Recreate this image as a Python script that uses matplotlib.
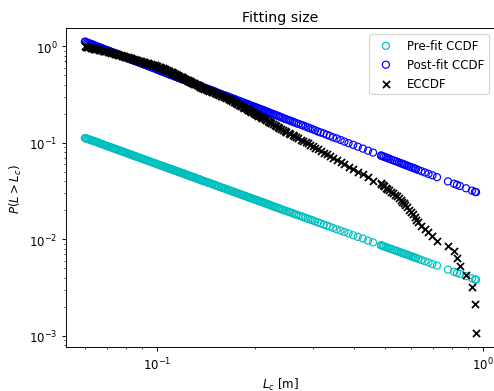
import matplotlib
matplotlib.use("Agg")
import matplotlib.pyplot as plt

# Crack lengths L_c [m]
Lc = [
    0.0600, 0.0605, 0.0610, 0.0615, 0.0620, 0.0625, 0.0630, 0.0635, 0.0641, 0.0646,
    0.0651, 0.0657, 0.0663, 0.0668, 0.0674, 0.0680, 0.0686, 0.0692, 0.0698, 0.0705,
    0.0711, 0.0718, 0.0724, 0.0731, 0.0737, 0.0742, 0.0748, 0.0754, 0.0760, 0.0766,
    0.0772, 0.0778, 0.0785, 0.0791, 0.0798, 0.0804, 0.0811, 0.0818, 0.0825, 0.0832,
    0.0839, 0.0847, 0.0854, 0.0862, 0.0869, 0.0877, 0.0885, 0.0894, 0.0902, 0.0910,
    0.0919, 0.0928, 0.0937, 0.0945, 0.0954, 0.0963, 0.0973, 0.0982, 0.0992, 0.100,
    0.101, 0.102, 0.103, 0.103, 0.104, 0.105, 0.106, 0.106, 0.107, 0.108,
    0.108, 0.109, 0.109, 0.110, 0.111, 0.111, 0.112, 0.112, 0.113, 0.113,
    0.114, 0.115, 0.115, 0.116, 0.116, 0.117, 0.118, 0.118, 0.119, 0.120,
    0.120, 0.121, 0.122, 0.122, 0.123, 0.124, 0.124, 0.125, 0.126, 0.126,
    0.127, 0.128, 0.129, 0.130, 0.130, 0.131, 0.132, 0.133, 0.134, 0.135,
    0.135, 0.136, 0.137, 0.138, 0.139, 0.141, 0.142, 0.143, 0.144, 0.146,
    0.147, 0.148, 0.150, 0.151, 0.152, 0.154, 0.155, 0.157, 0.158, 0.160,
    0.162, 0.163, 0.165, 0.166, 0.167, 0.169, 0.170, 0.172, 0.173, 0.175,
    0.176, 0.178, 0.180, 0.181, 0.183, 0.185, 0.187, 0.189, 0.190, 0.191,
    0.193, 0.194, 0.196, 0.198, 0.199, 0.201, 0.203, 0.204, 0.206, 0.208,
    0.210, 0.212, 0.214, 0.216, 0.218, 0.220, 0.222, 0.224, 0.227, 0.229,
    0.232, 0.235, 0.237, 0.240, 0.243, 0.246, 0.249, 0.253, 0.256, 0.260,
    0.263, 0.267, 0.271, 0.276, 0.280, 0.285, 0.290, 0.295, 0.300, 0.305,
    0.311, 0.317, 0.324, 0.331, 0.338, 0.346, 0.355, 0.365, 0.375, 0.386,
    0.399, 0.412, 0.427, 0.443, 0.459, 0.486, 0.486, 0.491, 0.496, 0.502,
    0.508, 0.514, 0.521, 0.528, 0.535, 0.543, 0.551, 0.558, 0.564, 0.571,
    0.577, 0.585, 0.592, 0.601, 0.609, 0.616, 0.622, 0.632, 0.646, 0.662,
    0.679, 0.698, 0.721, 0.779, 0.813, 0.830, 0.848, 0.885, 0.923, 0.943,
    0.950,
]

# Empirical CCDF P(L > L_c)
eccdf = [
    1.00, 0.994, 0.987, 0.981, 0.974, 0.968, 0.961, 0.955, 0.949, 0.942,
    0.936, 0.929, 0.923, 0.917, 0.910, 0.904, 0.897, 0.891, 0.884, 0.878,
    0.872, 0.865, 0.859, 0.852, 0.846, 0.840, 0.833, 0.827, 0.820, 0.814,
    0.807, 0.801, 0.795, 0.788, 0.782, 0.775, 0.769, 0.763, 0.756, 0.750,
    0.743, 0.737, 0.730, 0.724, 0.718, 0.711, 0.705, 0.698, 0.692, 0.686,
    0.679, 0.673, 0.666, 0.660, 0.653, 0.647, 0.641, 0.634, 0.628, 0.621,
    0.615, 0.609, 0.602, 0.596, 0.589, 0.583, 0.576, 0.570, 0.564, 0.557,
    0.553, 0.549, 0.544, 0.540, 0.536, 0.532, 0.527, 0.523, 0.519, 0.514,
    0.510, 0.506, 0.502, 0.497, 0.493, 0.489, 0.484, 0.480, 0.476, 0.472,
    0.467, 0.463, 0.459, 0.455, 0.450, 0.446, 0.442, 0.437, 0.433, 0.429,
    0.425, 0.420, 0.416, 0.412, 0.407, 0.403, 0.399, 0.395, 0.390, 0.386,
    0.382, 0.378, 0.373, 0.369, 0.365, 0.360, 0.356, 0.352, 0.348, 0.343,
    0.339, 0.335, 0.330, 0.326, 0.322, 0.318, 0.313, 0.309, 0.305, 0.301,
    0.296, 0.292, 0.288, 0.283, 0.279, 0.275, 0.271, 0.266, 0.262, 0.258,
    0.253, 0.249, 0.245, 0.241, 0.236, 0.232, 0.228, 0.224, 0.220, 0.217,
    0.214, 0.211, 0.207, 0.204, 0.201, 0.198, 0.195, 0.191, 0.188, 0.185,
    0.182, 0.179, 0.175, 0.172, 0.169, 0.166, 0.163, 0.159, 0.156, 0.153,
    0.150, 0.147, 0.143, 0.140, 0.137, 0.134, 0.130, 0.127, 0.124, 0.121,
    0.118, 0.114, 0.111, 0.108, 0.105, 0.102, 0.0984, 0.0952, 0.0920, 0.0888,
    0.0856, 0.0824, 0.0791, 0.0759, 0.0727, 0.0695, 0.0663, 0.0631, 0.0599, 0.0567,
    0.0535, 0.0503, 0.0471, 0.0439, 0.0406, 0.0385, 0.0374, 0.0364, 0.0353, 0.0342,
    0.0332, 0.0321, 0.0310, 0.0299, 0.0289, 0.0278, 0.0267, 0.0257, 0.0246, 0.0235,
    0.0225, 0.0214, 0.0203, 0.0193, 0.0182, 0.0171, 0.0160, 0.0150, 0.0139, 0.0128,
    0.0118, 0.0107, 0.00963, 0.00856, 0.00749, 0.00642, 0.00535, 0.00428, 0.00321, 0.00214,
    0.00107,
]

# Pre-fit model CCDF
pre_fit = [
    0.112, 0.111, 0.110, 0.109, 0.108, 0.107, 0.106, 0.105, 0.104, 0.103,
    0.102, 0.101, 0.0995, 0.0985, 0.0975, 0.0964, 0.0954, 0.0943, 0.0933, 0.0923,
    0.0913, 0.0903, 0.0892, 0.0882, 0.0874, 0.0866, 0.0858, 0.0850, 0.0842, 0.0833,
    0.0825, 0.0817, 0.0809, 0.0801, 0.0793, 0.0785, 0.0777, 0.0769, 0.0761, 0.0753,
    0.0745, 0.0737, 0.0729, 0.0721, 0.0714, 0.0706, 0.0698, 0.0690, 0.0682, 0.0674,
    0.0667, 0.0659, 0.0651, 0.0644, 0.0637, 0.0629, 0.0622, 0.0615, 0.0607, 0.0600,
    0.0593, 0.0586, 0.0581, 0.0577, 0.0572, 0.0567, 0.0562, 0.0558, 0.0553, 0.0548,
    0.0545, 0.0541, 0.0538, 0.0535, 0.0532, 0.0529, 0.0525, 0.0522, 0.0519, 0.0515,
    0.0512, 0.0509, 0.0506, 0.0502, 0.0499, 0.0496, 0.0492, 0.0489, 0.0486, 0.0483,
    0.0480, 0.0477, 0.0473, 0.0470, 0.0467, 0.0464, 0.0461, 0.0457, 0.0454, 0.0451,
    0.0448, 0.0444, 0.0441, 0.0438, 0.0434, 0.0431, 0.0428, 0.0424, 0.0421, 0.0418,
    0.0414, 0.0411, 0.0408, 0.0404, 0.0400, 0.0396, 0.0392, 0.0388, 0.0384, 0.0379,
    0.0375, 0.0371, 0.0367, 0.0363, 0.0359, 0.0355, 0.0350, 0.0346, 0.0342, 0.0338,
    0.0334, 0.0330, 0.0326, 0.0323, 0.0320, 0.0317, 0.0313, 0.0310, 0.0307, 0.0303,
    0.0300, 0.0297, 0.0293, 0.0290, 0.0287, 0.0283, 0.0280, 0.0276, 0.0274, 0.0271,
    0.0269, 0.0266, 0.0264, 0.0261, 0.0258, 0.0256, 0.0253, 0.0251, 0.0248, 0.0245,
    0.0243, 0.0240, 0.0237, 0.0234, 0.0232, 0.0229, 0.0226, 0.0223, 0.0220, 0.0217,
    0.0214, 0.0211, 0.0208, 0.0205, 0.0202, 0.0199, 0.0196, 0.0193, 0.0190, 0.0187,
    0.0183, 0.0180, 0.0177, 0.0174, 0.0170, 0.0167, 0.0163, 0.0160, 0.0157, 0.0153,
    0.0150, 0.0146, 0.0142, 0.0139, 0.0135, 0.0131, 0.0127, 0.0123, 0.0119, 0.0115,
    0.0110, 0.0106, 0.0102, 0.00969, 0.00929, 0.00867, 0.00867, 0.00856, 0.00844, 0.00832,
    0.00820, 0.00808, 0.00795, 0.00783, 0.00770, 0.00757, 0.00743, 0.00731, 0.00721, 0.00711,
    0.00701, 0.00690, 0.00679, 0.00668, 0.00656, 0.00648, 0.00640, 0.00627, 0.00611, 0.00593,
    0.00575, 0.00555, 0.00534, 0.00485, 0.00461, 0.00449, 0.00438, 0.00415, 0.00394, 0.00384,
    0.00381,
]

# Post-fit model CCDF
post_fit = [
    1.12, 1.11, 1.09, 1.08, 1.07, 1.06, 1.05, 1.04, 1.03, 1.01,
    1.00, 0.993, 0.982, 0.971, 0.960, 0.949, 0.938, 0.927, 0.917, 0.906,
    0.895, 0.885, 0.874, 0.864, 0.855, 0.847, 0.838, 0.830, 0.822, 0.813,
    0.805, 0.796, 0.788, 0.780, 0.771, 0.763, 0.755, 0.747, 0.738, 0.730,
    0.722, 0.714, 0.706, 0.698, 0.690, 0.682, 0.674, 0.666, 0.658, 0.650,
    0.642, 0.634, 0.626, 0.619, 0.611, 0.604, 0.596, 0.589, 0.581, 0.574,
    0.566, 0.560, 0.555, 0.550, 0.545, 0.540, 0.536, 0.531, 0.526, 0.521,
    0.518, 0.515, 0.511, 0.508, 0.505, 0.502, 0.498, 0.495, 0.492, 0.488,
    0.485, 0.482, 0.479, 0.475, 0.472, 0.469, 0.465, 0.462, 0.459, 0.456,
    0.453, 0.449, 0.446, 0.443, 0.440, 0.437, 0.433, 0.430, 0.427, 0.424,
    0.420, 0.417, 0.414, 0.411, 0.407, 0.404, 0.401, 0.397, 0.394, 0.391,
    0.387, 0.384, 0.381, 0.377, 0.373, 0.369, 0.365, 0.361, 0.357, 0.353,
    0.349, 0.345, 0.341, 0.337, 0.333, 0.328, 0.324, 0.320, 0.316, 0.312,
    0.308, 0.304, 0.301, 0.297, 0.294, 0.291, 0.288, 0.285, 0.282, 0.278,
    0.275, 0.272, 0.269, 0.265, 0.262, 0.259, 0.255, 0.252, 0.250, 0.247,
    0.245, 0.242, 0.240, 0.237, 0.235, 0.232, 0.230, 0.227, 0.225, 0.222,
    0.220, 0.217, 0.214, 0.212, 0.209, 0.206, 0.204, 0.201, 0.198, 0.196,
    0.193, 0.190, 0.187, 0.184, 0.181, 0.178, 0.175, 0.172, 0.169, 0.166,
    0.163, 0.160, 0.157, 0.154, 0.151, 0.148, 0.144, 0.141, 0.138, 0.135,
    0.131, 0.128, 0.125, 0.121, 0.118, 0.114, 0.111, 0.107, 0.103, 0.0992,
    0.0953, 0.0912, 0.0871, 0.0829, 0.0793, 0.0737, 0.0737, 0.0727, 0.0717, 0.0706,
    0.0695, 0.0684, 0.0673, 0.0661, 0.0650, 0.0638, 0.0626, 0.0615, 0.0607, 0.0598,
    0.0589, 0.0579, 0.0569, 0.0559, 0.0549, 0.0542, 0.0534, 0.0523, 0.0508, 0.0493,
    0.0477, 0.0460, 0.0441, 0.0398, 0.0377, 0.0367, 0.0357, 0.0338, 0.0320, 0.0311,
    0.0308,
]

series_labels = ["Pre-fit CCDF", "Post-fit CCDF", "ECCDF"]

DPI = 85
fig = plt.figure(figsize=(494 / DPI, 392 / DPI), dpi=DPI)
ax = fig.add_axes([65.7 / 494, 1 - 348.3 / 392, (495 - 65.7) / 494, (348.3 - 29.3) / 392])

ax.scatter(Lc, pre_fit, facecolors="none", edgecolors="c", label=series_labels[0])
ax.scatter(Lc, post_fit, facecolors="none", edgecolors="b", label=series_labels[1])
ax.scatter(Lc, eccdf, marker="x", color="k", label=series_labels[2])

ax.set_xscale("log")
ax.set_yscale("log")
ax.set_xlim(0.0524, 1.086)
ax.set_ylim(7.6e-4, 1.537)
ax.set_title("Fitting size")
ax.set_xlabel("$L_c$ [m]", labelpad=3)
ax.set_ylabel("$P(L>L_c)$")
ax.legend(loc="upper right")

fig.savefig("out.png", dpi=DPI)
